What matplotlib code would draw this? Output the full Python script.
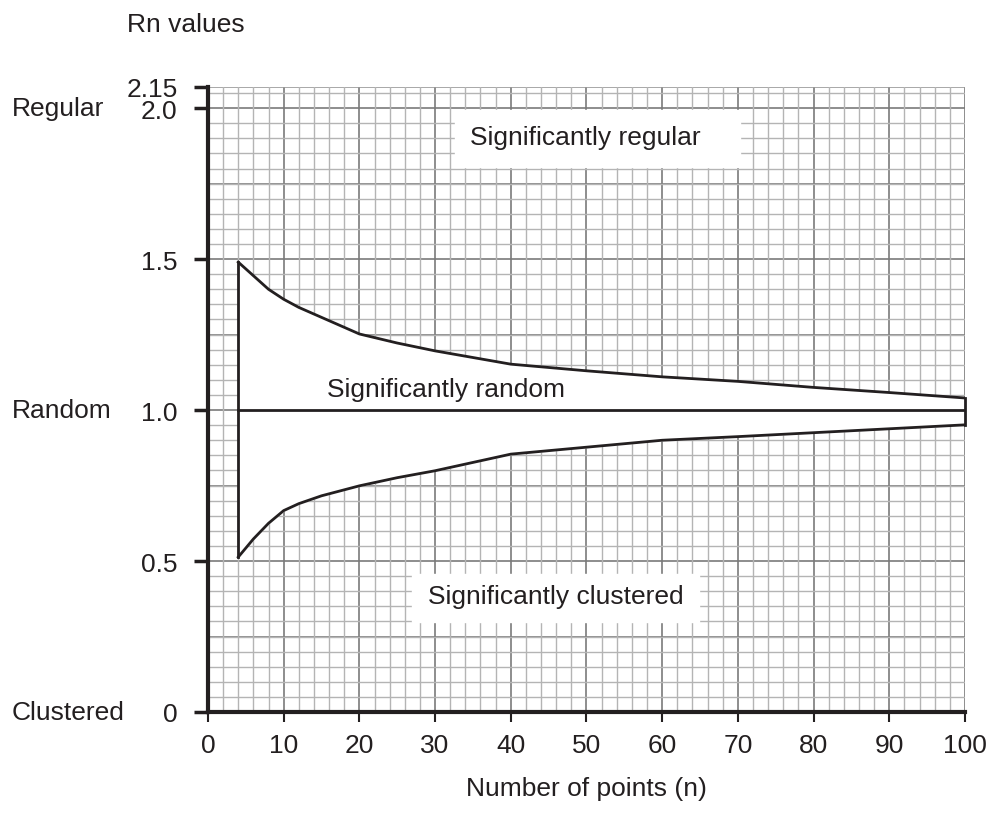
import numpy as np
import matplotlib.pyplot as plt
from matplotlib.ticker import MultipleLocator

plt.rcParams['font.family'] = ['Liberation Sans', 'DejaVu Sans']

# Critical values of the nearest neighbour index Rn
n_points = [4, 6, 8, 10, 12, 15, 20, 25, 30, 40, 50, 60, 70, 80, 90, 100]
upper_rn = [1.49, 1.445, 1.40, 1.367, 1.34, 1.307, 1.252, 1.222, 1.196, 1.152, 1.13, 1.11, 1.095, 1.075, 1.058, 1.04]
lower_rn = [0.513, 0.573, 0.625, 0.667, 0.69, 0.716, 0.749, 0.776, 0.799, 0.854, 0.877, 0.90, 0.912, 0.925, 0.938, 0.951]

y_ticks = [0, 0.5, 1.0, 1.5, 2.0, 2.07]
y_tick_labels = ['0', '0.5', '1.0', '1.5', '2.0', '2.15']
x_ticks = list(range(0, 101, 10))

ink = '#231f20'
fs = 19

fig = plt.figure(figsize=(9.87, 8.2), dpi=100)
ax = fig.add_axes([0.2107, 0.1305, 0.767, 0.7622])
ax.set_xlim(0, 100)
ax.set_ylim(0, 2.07)

# graph paper
ax.xaxis.set_minor_locator(MultipleLocator(2))
ax.yaxis.set_minor_locator(MultipleLocator(0.05))
ax.set_xticks(x_ticks)
ax.set_yticks(y_ticks)
ax.set_yticklabels(y_tick_labels)
ax.grid(which='minor', color='#b4b4b4', lw=1.0, zorder=0)
for xv in x_ticks:
    ax.axvline(xv, color='#7a7a7a', lw=1.2, zorder=0.5)
for yv in np.arange(0, 2.01, 0.25):
    ax.axhline(yv, color='#7a7a7a', lw=1.2, zorder=0.5)
ax.axhline(2.07, color='#9a9a9a', lw=1.2, zorder=0.5)
ax.set_axisbelow(True)

# funnel
ax.fill_between(n_points, lower_rn, upper_rn, color='white', zorder=2)
ax.plot(n_points, upper_rn, color=ink, lw=2, zorder=3)
ax.plot(n_points, lower_rn, color=ink, lw=2, zorder=3)
ax.plot([n_points[0], n_points[0]], [lower_rn[0], upper_rn[0]], color=ink, lw=2, zorder=3)
ax.plot([n_points[-1], n_points[-1]], [lower_rn[-1], upper_rn[-1]], color=ink, lw=2, zorder=3,
        clip_on=False)
ax.plot([n_points[0], n_points[-1]], [1.0, 1.0], color=ink, lw=2, zorder=3)

# region labels
ax.add_patch(plt.Rectangle((32.6, 1.805), 37.7, 0.19, color='white', zorder=2))
ax.text(49.8, 1.904, 'Significantly regular', fontsize=fs, ha='center', va='center',
        color=ink, zorder=4)
ax.add_patch(plt.Rectangle((27, 0.298), 37.8, 0.159, color='white', zorder=2))
ax.text(46, 0.385, 'Significantly clustered', fontsize=fs, ha='center', va='center',
        color=ink, zorder=4)
ax.text(31.4, 1.07, 'Significantly random', fontsize=fs, ha='center', va='center',
        color=ink, zorder=4)

# axes styling
for side in ['top', 'right']:
    ax.spines[side].set_visible(False)
for side in ['left', 'bottom']:
    ax.spines[side].set_linewidth(3)
    ax.spines[side].set_color(ink)
    ax.spines[side].set_zorder(5)
ax.tick_params(axis='y', which='major', length=10, width=2.5, color=ink,
               labelsize=fs, labelcolor=ink, pad=12)
ax.tick_params(axis='x', which='major', length=7, width=1.5, color=ink,
               labelsize=fs, labelcolor=ink, pad=8)
ax.tick_params(which='minor', length=0)

# side labels
for yv, name in [(2.0, 'Regular'), (1.0, 'Random'), (0.0, 'Clustered')]:
    ax.text(-0.259, yv, name, transform=ax.get_yaxis_transform(), fontsize=fs,
            ha='left', va='center', color=ink)
ax.text(-0.107, 1.10, 'Rn values', transform=ax.transAxes, fontsize=fs,
        ha='left', va='center', color=ink)
ax.set_xlabel('Number of points (n)', fontsize=fs, color=ink, labelpad=14)

fig.savefig('out.png', dpi=100)
